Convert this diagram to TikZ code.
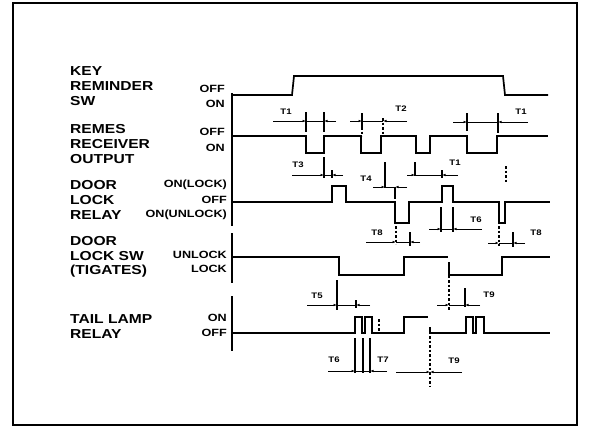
\documentclass[tikz,border=0pt]{standalone}
\usepackage{fontspec}
\newfontfamily\lblfont{Liberation Sans}[FakeStretch=1.2]
\usetikzlibrary{arrows.meta}
\newcommand\tdim[5]{% y, x0, xa, xb, x1
  \draw[dim,-{Latex[length=3.5pt,width=2.6pt]}] (#2,#1) -- (#3,#1);
  \draw[dim] (#3,#1) -- (#4,#1);
  \draw[dim,-{Latex[length=3.5pt,width=2.6pt]}] (#5,#1) -- (#4,#1);}
\begin{document}
\begin{tikzpicture}[x=1pt,y=-1pt,
  sig/.style={line width=1.7pt, line join=miter},
  sigthin/.style={line width=1.4pt, line join=miter},
  heavy/.style={line width=2.8pt},
  axisline/.style={line width=1.6pt},
  dim/.style={line width=0.9pt},
  tickline/.style={line width=1.1pt},
  dtick/.style={line width=1.1pt, dash pattern=on 2.5pt off 2pt},
  lefttxt/.style={anchor=west, inner sep=0pt, font=\lblfont\bfseries\fontsize{13}{13}\selectfont},
  righttxt/.style={anchor=east, inner sep=0pt, font=\lblfont\bfseries\fontsize{10.5}{10.5}\selectfont},
  tlabel/.style={inner sep=0pt, font=\lblfont\bfseries\fontsize{8}{8}\selectfont},
]
\useasboundingbox (0,0) rectangle (598,439);
\draw[line width=2pt] (13,3) rectangle (577,425);

% left labels
\node[lefttxt] (k1) at (70,71) {KEY};
\node[lefttxt] (k2) at (70,86) {REMINDER};
\node[lefttxt] (k3) at (70,101) {SW};
\node[lefttxt] (r1) at (70,129) {REMES};
\node[lefttxt] (r2) at (70,144) {RECEIVER};
\node[lefttxt] (r3) at (70,159) {OUTPUT};
\node[lefttxt] (d1) at (70,185) {DOOR};
\node[lefttxt] (d2) at (70,200) {LOCK};
\node[lefttxt] (d3) at (70,215) {RELAY};
\node[lefttxt] (s1) at (70,241) {DOOR};
\node[lefttxt] (s2) at (70,256) {LOCK SW};
\node[lefttxt] (s3) at (70,271) {(TIGATES)};
\node[lefttxt] (t1) at (70,319) {TAIL LAMP};
\node[lefttxt] (t2) at (70,334) {RELAY};

% level labels
\node[righttxt] (kof) at (225,89) {OFF};
\node[righttxt] (kon) at (225,104) {ON};
\node[righttxt] (rof) at (225,132) {OFF};
\node[righttxt] (ron) at (225,148) {ON};
\node[righttxt] (dlk) at (227,185) {ON(LOCK)};
\node[righttxt] (dof) at (227,200) {OFF};
\node[righttxt] (dul) at (227,215) {ON(UNLOCK)};
\node[righttxt] (sul) at (227,255) {UNLOCK};
\node[righttxt] (slk) at (227,269) {LOCK};
\node[righttxt] (ton) at (227,318) {ON};
\node[righttxt] (tof) at (227,333) {OFF};

% axes
\draw[axisline] (232,93) -- (232,226);
\draw[axisline] (232,233) -- (232,283);
\draw[axisline] (232,296) -- (232,351);

% key reminder sw
\draw[heavy] (232,95) -- (288,95);
\draw[sig] (232,95) -- (292,95) -- (294,76) -- (503,76) -- (505,95) -- (548,95);
% remes receiver output
\draw[heavy] (232,136) -- (300,136);
\draw[sig] (232,136) -| (306,153) -| (324,136) -| (361,153) -| (381,136) -| (416,153) -| (430,136) -| (467,153) -| (497,136) -- (548,136);
% door lock relay
\draw[heavy] (232,202) -- (266,202);
\draw[sig] (232,202) -| (332,186) -| (346,202) -| (395,223) -| (409,202) -| (442,186) -| (453,202) -| (499,223) -| (505,202) -- (550,202);
% door lock sw
\draw[sigthin] (232,257) -| (339,275) -| (404,257) -- (448,257);
\draw[sigthin] (449,265) -- (449,275) -| (502,257) -- (550,257);
% tail lamp relay
\draw[sigthin] (232,333) -| (355,317) -| (362,333) -| (365,317) -| (372,333) -- (404,333) |- (428,317);
\draw[dtick] (379,319) -- (379,333);
\draw[sigthin] (430,327) -- (430,333) -| (466,317) -| (473,333) -| (476,317) -| (484,333) -- (550,333);

% timing: T1 left
\draw[tickline] (306,112) -- (306,132);
\draw[tickline] (324,112) -- (324,132);
\tdim{121}{273}{306}{324}{336}
\node[tlabel] (lt1a) at (286,112) {T1};
% T2
\draw[tickline] (362,113) -- (362,127);
\draw[dtick] (362,127) -- (362,136);
\draw[dtick] (383,118) -- (383,136);
\tdim{121}{350}{362}{383}{407}
\node[tlabel] (lt2) at (401,109) {T2};
% T1 right
\draw[tickline] (467,113) -- (467,131);
\draw[tickline] (498,113) -- (498,133);
\tdim{122}{453}{467}{498}{528}
\node[tlabel] (lt1b) at (521,112) {T1};
% T3 left
\draw[tickline] (324,157) -- (324,178);
\draw[tickline] (332,170) -- (332,178);
\tdim{175}{292}{324}{332}{343}
\node[tlabel] (lt3) at (298,165) {T3};
% T4
\draw[tickline] (385,162) -- (385,188);
\draw[tickline] (395,187) -- (395,199);
\tdim{187}{373}{385}{395}{407}
\node[tlabel] (lt4) at (366,179) {T4};
% T1 middle
\draw[tickline] (415,162) -- (415,176);
\draw[tickline] (442,170) -- (442,178);
\tdim{175}{407}{415}{442}{458}
\node[tlabel] (lt1c) at (455,163) {T1};
\draw[dtick] (506,166) -- (506,182);
% T8 left
\draw[dtick] (396,226) -- (396,244);
\draw[tickline] (410,232) -- (410,246);
\tdim{242}{366}{396}{410}{420}
\node[tlabel] (lt8a) at (377,233) {T8};
% T6 middle
\draw[tickline] (441,207) -- (441,232);
\draw[tickline] (453,207) -- (453,232);
\tdim{229}{429}{441}{453}{482}
\node[tlabel] (lt6a) at (476,220) {T6};
% T8 right
\draw[dtick] (499,226) -- (499,246);
\draw[tickline] (513,232) -- (513,247);
\tdim{243}{488}{499}{513}{525}
\node[tlabel] (lt8b) at (536,233) {T8};
% T5 left
\draw[tickline] (337,280) -- (337,310);
\draw[tickline] (356,300) -- (356,308);
\tdim{305}{307}{337}{356}{370}
\node[tlabel] (lt5) at (317,296) {T5};
% T9 upper right
\draw[dtick] (449,262) -- (449,310);
\draw[tickline] (465,288) -- (465,307);
\tdim{305}{437}{449}{465}{480}
\node[tlabel] (lt9a) at (489,295) {T9};
% T6 / T7 bottom
\draw[tickline] (355,338) -- (355,373);
\draw[tickline] (363,338) -- (363,373);
\draw[tickline] (370,338) -- (370,373);
\tdim{371}{328}{355}{370}{387}
\node[tlabel] (lt6b) at (334,360) {T6};
\node[tlabel] (lt7) at (383,360) {T7};
% T9 bottom
\draw[dtick] (430,336) -- (430,386);
\tdim{372}{396}{430}{430}{462}
\node[tlabel] (lt9b) at (454,361) {T9};
\end{tikzpicture}
\end{document}
